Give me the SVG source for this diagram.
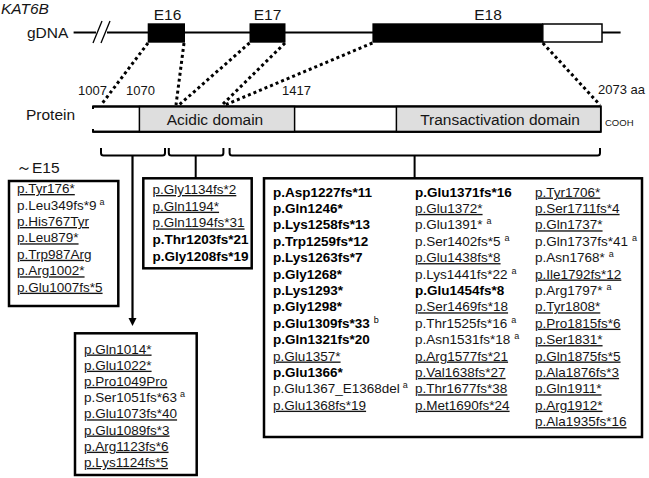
<svg xmlns="http://www.w3.org/2000/svg" width="649" height="478" viewBox="0 0 649 478">
<defs>
<style>
text{font-family:"Liberation Sans",Arial,sans-serif;fill:#151515}
.t{font-size:13.5px}
.u{font-size:13.5px;text-decoration:underline}
.b{font-size:13.5px;font-weight:bold;fill:#000}
.s{font-size:9px;font-weight:normal}
.lab{font-size:15.5px}
.num{font-size:13px}
.box{fill:#fff;stroke:#000;stroke-width:2.5}
.ln{stroke:#000;stroke-width:2;fill:none}
.dot{stroke:#000;stroke-width:3;stroke-dasharray:3 3;fill:none}
.dom{fill:#dedede;stroke:#000;stroke-width:1.5}
</style>
</defs>
<rect width="649" height="478" fill="#fff"/>

<g id="gene">
<text x="1" y="14" class="lab" font-style="italic">KAT6B</text>
<text x="27" y="38" class="lab">gDNA</text>
<line x1="73.6" y1="32.5" x2="96" y2="32.5" class="ln"/>
<line x1="107" y1="32.5" x2="620.6" y2="32.5" class="ln"/>
<line x1="93" y1="43" x2="102" y2="21" stroke="#000" stroke-width="1.3"/>
<line x1="101" y1="43" x2="110" y2="21" stroke="#000" stroke-width="1.3"/>
<rect x="147.7" y="23.3" width="37.3" height="19.4" fill="#000"/>
<rect x="249.5" y="23.3" width="36" height="19.4" fill="#000"/>
<rect x="372.4" y="23.3" width="170.4" height="19.4" fill="#000"/>
<rect x="542.8" y="24" width="59.2" height="18" fill="#fff" stroke="#000" stroke-width="1.5"/>
<text x="167.5" y="20" class="lab" text-anchor="middle">E16</text>
<text x="267.5" y="20" class="lab" text-anchor="middle">E17</text>
<text x="488" y="20" class="lab" text-anchor="middle">E18</text>
</g>

<g id="protein">
<text x="26" y="120" class="lab">Protein</text>
<path d="M93,109 L93,106.5 L600.7,106.5 L600.7,131.7 L93,131.7 L93,129" class="ln"/>
<rect x="139.4" y="106.5" width="155.2" height="25.2" class="dom"/>
<rect x="396.4" y="106.5" width="204.3" height="25.2" class="dom"/>
<path d="M93,106.5 L600.7,106.5 M93,131.7 L600.7,131.7" class="ln"/>
<text x="215" y="125" class="lab" text-anchor="middle">Acidic domain</text>
<text x="500" y="125" class="lab" text-anchor="middle">Transactivation domain</text>
<text x="605" y="126" font-size="9.5">COOH</text>
<text x="78" y="95" class="num">1007</text>
<text x="126" y="95" class="num">1070</text>
<text x="282" y="95" class="num">1417</text>
<text x="598" y="94" class="num">2073 aa</text>
</g>

<text x="16" y="173" font-size="15.5" font-family="Liberation Sans,Noto Sans CJK JP,sans-serif">～E15</text>

<g id="box-e15">
<rect x="9" y="181" width="109.3" height="125" class="box"/>
<text x="17" y="193" class="u">p.Tyr176*</text>
<text x="17" y="209.5" class="t">p.Leu349fs*9<tspan class="s" dx="3" dy="-5">a</tspan></text>
<text x="17" y="226" class="u">p.His767Tyr</text>
<text x="17" y="242.3" class="u">p.Leu879*</text>
<text x="17" y="258.8" class="u">p.Trp987Arg</text>
<text x="17" y="275.3" class="u">p.Arg1002*</text>
<text x="17" y="291.7" class="u">p.Glu1007fs*5</text>
</g>

<g id="box-acidic">
<rect x="143.3" y="178.3" width="108.4" height="90" class="box"/>
<text x="152.5" y="194" class="u">p.Gly1134fs*2</text>
<text x="152.5" y="210.7" class="u">p.Gln1194*</text>
<text x="152.5" y="227.4" class="u">p.Gln1194fs*31</text>
<text x="152.5" y="244" class="b">p.Thr1203fs*21</text>
<text x="152.5" y="260.7" class="b">p.Gly1208fs*19</text>
</g>

<g id="box-e16">
<rect x="75" y="333.3" width="121.7" height="141.7" class="box"/>
<text x="84" y="353.5" class="u">p.Gln1014*</text>
<text x="84" y="369.7" class="u">p.Glu1022*</text>
<text x="84" y="385.9" class="u">p.Pro1049Pro</text>
<text x="84" y="402.1" class="t">p.Ser1051fs*63<tspan class="s" dx="3" dy="-5">a</tspan></text>
<text x="84" y="418.3" class="u">p.Glu1073fs*40</text>
<text x="84" y="434.5" class="u">p.Glu1089fs*3</text>
<text x="84" y="450.7" class="u">p.Arg1123fs*6</text>
<text x="84" y="466.9" class="u">p.Lys1124fs*5</text>
</g>

<g id="box-e18">
<rect x="264" y="178.3" width="378" height="258.7" class="box"/>
<text x="273" y="196.5" class="b">p.Asp1227fs*11</text>
<text x="273" y="212.9" class="b">p.Gln1246*</text>
<text x="273" y="229.3" class="b">p.Lys1258fs*13</text>
<text x="273" y="245.7" class="b">p.Trp1259fs*12</text>
<text x="273" y="262.1" class="b">p.Lys1263fs*7</text>
<text x="273" y="278.5" class="b">p.Gly1268*</text>
<text x="273" y="294.9" class="b">p.Lys1293*</text>
<text x="273" y="311.3" class="b">p.Gly1298*</text>
<text x="273" y="327.7" class="b">p.Glu1309fs*33<tspan class="s" dx="4" dy="-5">b</tspan></text>
<text x="273" y="344.1" class="b">p.Gln1321fs*20</text>
<text x="273" y="360.5" class="u">p.Glu1357*</text>
<text x="273" y="376.9" class="b">p.Glu1366*</text>
<text x="273" y="393.3" class="t">p.Glu1367_E1368del<tspan class="s" dx="3" dy="-5">a</tspan></text>
<text x="273" y="409.7" class="u">p.Glu1368fs*19</text>

<text x="415" y="196.5" class="b">p.Glu1371fs*16</text>
<text x="415" y="212.9" class="u">p.Glu1372*</text>
<text x="415" y="229.3" class="t">p.Glu1391*<tspan class="s" dx="4" dy="-5">a</tspan></text>
<text x="415" y="245.7" class="t">p.Ser1402fs*5<tspan class="s" dx="4" dy="-5">a</tspan></text>
<text x="415" y="262.1" class="u">p.Glu1438fs*8</text>
<text x="415" y="278.5" class="t">p.Lys1441fs*22<tspan class="s" dx="4" dy="-5">a</tspan></text>
<text x="415" y="294.9" class="b">p.Glu1454fs*8</text>
<text x="415" y="311.3" class="u">p.Ser1469fs*18</text>
<text x="415" y="327.7" class="t">p.Thr1525fs*16<tspan class="s" dx="4" dy="-5">a</tspan></text>
<text x="415" y="344.1" class="t">p.Asn1531fs*18<tspan class="s" dx="4" dy="-5">a</tspan></text>
<text x="415" y="360.5" class="u">p.Arg1577fs*21</text>
<text x="415" y="376.9" class="u">p.Val1638fs*27</text>
<text x="415" y="393.3" class="u">p.Thr1677fs*38</text>
<text x="415" y="409.7" class="u">p.Met1690fs*24</text>

<text x="535" y="196.5" class="u">p.Tyr1706*</text>
<text x="535" y="212.9" class="u">p.Ser1711fs*4</text>
<text x="535" y="229.3" class="u">p.Gln1737*</text>
<text x="535" y="245.7" class="t">p.Gln1737fs*41<tspan class="s" dx="4" dy="-5">a</tspan></text>
<text x="535" y="262.1" class="t">p.Asn1768*<tspan class="s" dx="4" dy="-5">a</tspan></text>
<text x="535" y="278.5" class="u">p.Ile1792fs*12</text>
<text x="535" y="294.9" class="t">p.Arg1797*<tspan class="s" dx="4" dy="-5">a</tspan></text>
<text x="535" y="311.3" class="u">p.Tyr1808*</text>
<text x="535" y="327.7" class="u">p.Pro1815fs*6</text>
<text x="535" y="344.1" class="u">p.Ser1831*</text>
<text x="535" y="360.5" class="u">p.Gln1875fs*5</text>
<text x="535" y="376.9" class="u">p.Ala1876fs*3</text>
<text x="535" y="393.3" class="u">p.Gln1911*</text>
<text x="535" y="409.7" class="u">p.Arg1912*</text>
<text x="535" y="426.1" class="u">p.Ala1935fs*16</text>
</g>

<g id="connectors">
<line x1="148" y1="43" x2="101" y2="105" class="dot"/>
<line x1="184" y1="43" x2="176" y2="105" class="dot"/>
<line x1="249.5" y1="43" x2="179" y2="105" class="dot"/>
<line x1="285" y1="43" x2="222" y2="105" class="dot"/>
<line x1="372.4" y1="43" x2="225" y2="105" class="dot"/>
<line x1="542.8" y1="43" x2="600" y2="105" class="dot"/>
<path d="M101,148 L101,153 Q101,155.5 103.5,155.5 L162.5,155.5 Q165,155.5 165,153 L165,148" class="ln"/>
<path d="M168.8,148 L168.8,153 Q168.8,155.5 171.3,155.5 L220.9,155.5 Q223.4,155.5 223.4,153 L223.4,148" class="ln"/>
<path d="M229.6,148 L229.6,153 Q229.6,155.5 232.1,155.5 L597.5,155.5 Q600,155.5 600,153 L600,148" class="ln"/>
<path d="M132.5,155.5 L132.5,320" stroke="#000" stroke-width="2.2" fill="none"/>
<path d="M128.5,318 L136.5,318 L132.5,326 Z" fill="#000"/>
<path d="M195.7,155.5 L195.7,178" class="ln"/>
<path d="M414.6,155.5 L414.6,178" class="ln"/>
</g>
</svg>
